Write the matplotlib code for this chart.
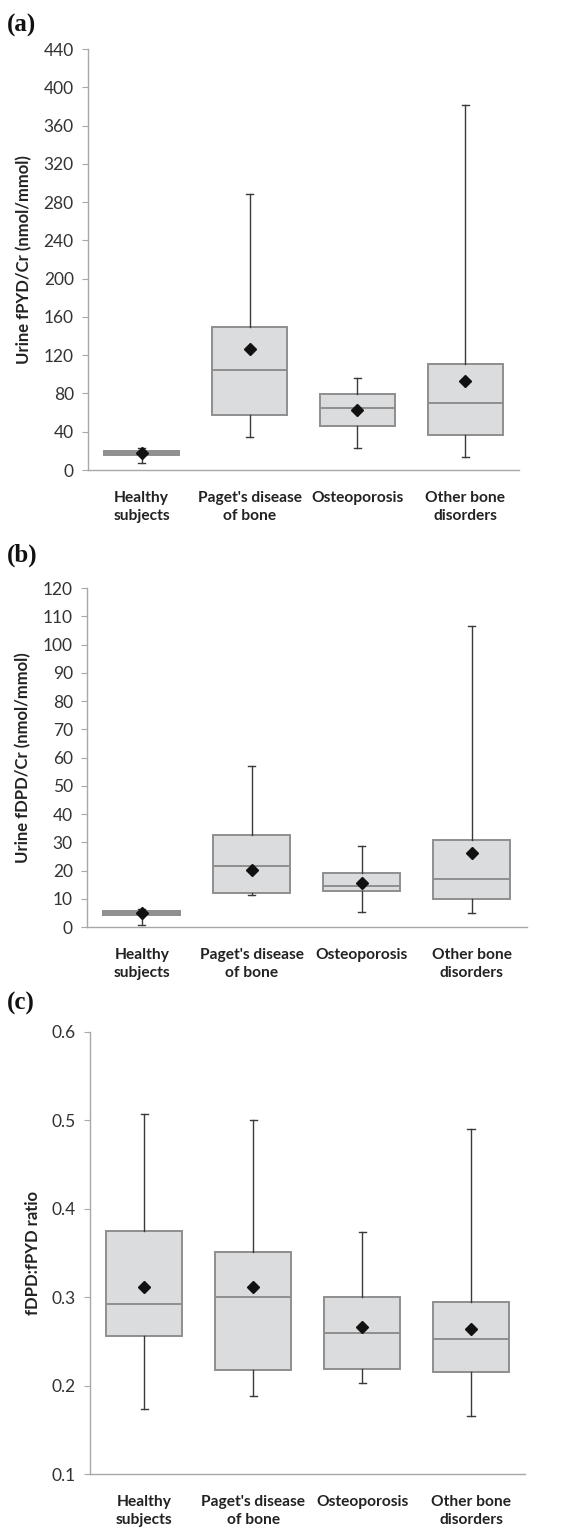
import matplotlib
matplotlib.use("Agg")
import matplotlib.pyplot as plt

categories = ["Healthy\nsubjects", "Paget's disease\nof bone", "Osteoporosis", "Other bone\ndisorders"]

# Panel (a): urine fPYD/Cr (nmol/mmol)
fpyd_whislo = [7.7, 34.5, 22.6, 13.9]
fpyd_q1 = [15.3, 57.8, 46.3, 36.2]
fpyd_med = [17.8, 104.5, 64.5, 70.0]
fpyd_q3 = [20.2, 149.5, 79.8, 110.5]
fpyd_whishi = [22.6, 288.4, 95.8, 381.4]
fpyd_mean = [17.8, 126.8, 63.0, 93.4]

# Panel (b): urine fDPD/Cr (nmol/mmol)
fdpd_whislo = [0.8, 11.2, 5.5, 4.8]
fdpd_q1 = [4.1, 12.1, 12.8, 10.0]
fdpd_med = [4.9, 21.5, 14.6, 17.0]
fdpd_q3 = [5.8, 32.7, 19.3, 30.8]
fdpd_whishi = [6.4, 57.0, 28.7, 106.4]
fdpd_mean = [4.8, 20.1, 15.5, 26.1]

# Panel (c): fDPD:fPYD ratio
ratio_whislo = [0.174, 0.189, 0.203, 0.1655]
ratio_q1 = [0.256, 0.2175, 0.219, 0.2156]
ratio_med = [0.292, 0.300, 0.260, 0.253]
ratio_q3 = [0.375, 0.351, 0.300, 0.295]
ratio_whishi = [0.507, 0.500, 0.374, 0.4906]
ratio_mean = [0.312, 0.312, 0.266, 0.264]

yticks_a = list(range(0, 441, 40))
yticks_b = list(range(0, 121, 10))
yticks_c = [0.1, 0.2, 0.3, 0.4, 0.5, 0.6]

BOX_FILL = "#dbdcde"
BOX_EDGE = "#8e8e8e"
AXIS_COL = "#a8a8a8"
WHISK_COL = "#3a3a3a"

tick_font = "Lato"

fig = plt.figure(figsize=(5.70, 15.27), dpi=100)


def panel(rect, whislo, q1, med, q3, whishi, mean, yticks, ylim, ylabel, fmt):
    ax = fig.add_axes(rect)
    stats = []
    for i in range(len(categories)):
        stats.append(dict(whislo=whislo[i], q1=q1[i], med=med[i], q3=q3[i],
                          whishi=whishi[i], mean=mean[i], fliers=[]))
    pos = list(range(len(categories)))
    ax.bxp(stats, positions=pos, widths=0.70, showmeans=True, patch_artist=True,
           showfliers=False, capwidths=0.065,
           boxprops=dict(facecolor=BOX_FILL, edgecolor=BOX_EDGE, linewidth=1.4),
           medianprops=dict(color=BOX_EDGE, linewidth=1.4),
           whiskerprops=dict(color=WHISK_COL, linewidth=1.0),
           capprops=dict(color=WHISK_COL, linewidth=1.0),
           meanprops=dict(marker="D", markerfacecolor="#111111",
                          markeredgecolor="#111111", markersize=6.5))
    ax.set_xlim(-0.5, len(categories) - 0.5)
    ax.set_ylim(*ylim)
    ax.set_yticks(yticks)
    ax.set_yticklabels([fmt(v) for v in yticks], fontsize=12.5, family=tick_font,
                       color="#333333")
    ax.set_xticks(pos)
    ax.set_xticklabels(categories, fontsize=11.2, fontweight="bold", family=tick_font,
                       color="#222222", linespacing=1.35)
    ax.tick_params(axis="x", length=0, pad=15)
    ax.tick_params(axis="y", length=4, width=0.8, color=AXIS_COL, pad=6)
    for s in ("top", "right"):
        ax.spines[s].set_visible(False)
    for s in ("left", "bottom"):
        ax.spines[s].set_color(AXIS_COL)
        ax.spines[s].set_linewidth(1.0)
    ax.set_ylabel(ylabel, fontsize=12, fontweight="bold", family=tick_font,
                  color="#222222", labelpad=8)
    return ax


ax_a = panel([0.1539, 0.6922, 0.7572, 0.2757], fpyd_whislo, fpyd_q1, fpyd_med,
             fpyd_q3, fpyd_whishi, fpyd_mean, yticks_a, (0, 440),
             "Urine fPYD/Cr (nmol/mmol)", lambda v: f"{v:d}")
ax_b = panel([0.1521, 0.3929, 0.7719, 0.2220], fdpd_whislo, fdpd_q1, fdpd_med,
             fdpd_q3, fdpd_whishi, fdpd_mean, yticks_b, (0, 120),
             "Urine fDPD/Cr (nmol/mmol)", lambda v: f"{v:d}")
ax_c = panel([0.1575, 0.0345, 0.7644, 0.2898], ratio_whislo, ratio_q1, ratio_med,
             ratio_q3, ratio_whishi, ratio_mean, yticks_c, (0.1, 0.6),
             "fDPD:fPYD ratio", lambda v: f"{v:.1f}")

# Panel letters
for label, ypix in (("(a)", 25), ("(b)", 555), ("(c)", 1003)):
    fig.text(7 / 570, 1 - ypix / 1527, label, fontsize=18, fontweight="bold",
             family="Liberation Serif", va="center", ha="left", color="#111111")

fig.savefig("out.png", dpi=100)
